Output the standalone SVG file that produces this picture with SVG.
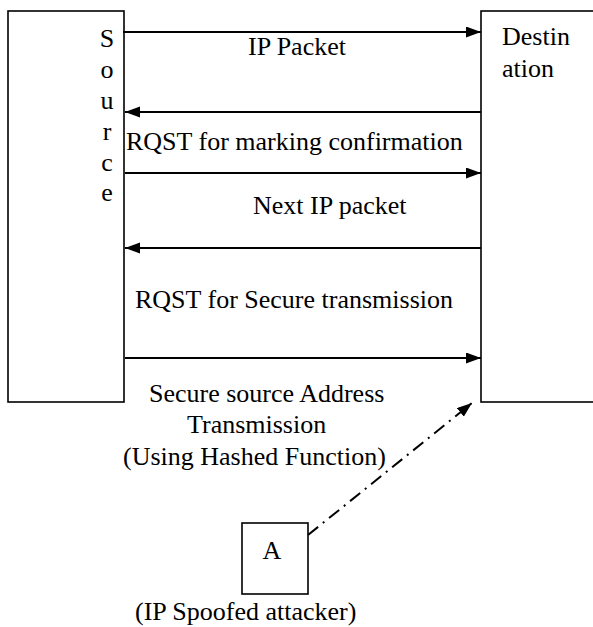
<svg xmlns="http://www.w3.org/2000/svg" width="593" height="627" viewBox="0 0 593 627">
<defs>
<marker id="ah" markerWidth="16" markerHeight="12" refX="15" refY="5.5" orient="auto" markerUnits="userSpaceOnUse">
<path d="M0,0 L15,5.5 L0,11 Z" fill="#000"/>
</marker>
</defs>
<rect width="593" height="627" fill="#fff"/>
<g id="source">
<rect x="8" y="11" width="116" height="391" fill="#fff" stroke="#000" stroke-width="1.6"/>
<text x="107" y="47" font-family="Liberation Serif" font-size="26" text-anchor="middle">S</text>
<text x="107" y="78" font-family="Liberation Serif" font-size="26" text-anchor="middle">o</text>
<text x="107" y="109" font-family="Liberation Serif" font-size="26" text-anchor="middle">u</text>
<text x="107" y="140" font-family="Liberation Serif" font-size="26" text-anchor="middle">r</text>
<text x="107" y="171" font-family="Liberation Serif" font-size="26" text-anchor="middle">c</text>
<text x="107" y="201" font-family="Liberation Serif" font-size="26" text-anchor="middle">e</text>
</g>
<g id="destination">
<rect x="481" y="11" width="130" height="391" fill="#fff" stroke="#000" stroke-width="1.6"/>
<text x="502" y="45" font-family="Liberation Serif" font-size="26">Destin</text>
<text x="502" y="77" font-family="Liberation Serif" font-size="26">ation</text>
</g>
<g id="attacker">
<rect x="242" y="523" width="66" height="71" fill="#fff" stroke="#000" stroke-width="1.6"/>
<text x="272" y="559" font-family="Liberation Serif" font-size="26" text-anchor="middle">A</text>
<text x="135" y="620" font-family="Liberation Serif" font-size="26">(IP Spoofed attacker)</text>
</g>
<g id="connectors" stroke="#000" stroke-width="2" fill="none">
<line x1="123" y1="32" x2="481" y2="32" marker-end="url(#ah)"/>
<line x1="481" y1="112" x2="125" y2="112" marker-end="url(#ah)"/>
<line x1="125" y1="173" x2="481" y2="173" marker-end="url(#ah)"/>
<line x1="481" y1="248" x2="125" y2="248" marker-end="url(#ah)"/>
<line x1="125" y1="358" x2="481" y2="358" marker-end="url(#ah)"/>
<line x1="308" y1="535" x2="472" y2="403" stroke-dasharray="13,6,2,6" marker-end="url(#ah)"/>
</g>
<g id="labels">
<text x="248" y="55" font-family="Liberation Serif" font-size="26">IP Packet</text>
<text x="126" y="150" font-family="Liberation Serif" font-size="26">RQST for marking confirmation</text>
<text x="253" y="214" font-family="Liberation Serif" font-size="26">Next IP packet</text>
<text x="135" y="308" font-family="Liberation Serif" font-size="26">RQST for Secure transmission</text>
<text x="149" y="402" font-family="Liberation Serif" font-size="26">Secure source Address</text>
<text x="187" y="433" font-family="Liberation Serif" font-size="26">Transmission</text>
<text x="123" y="465" font-family="Liberation Serif" font-size="26">(Using Hashed Function)</text>
</g>
</svg>
